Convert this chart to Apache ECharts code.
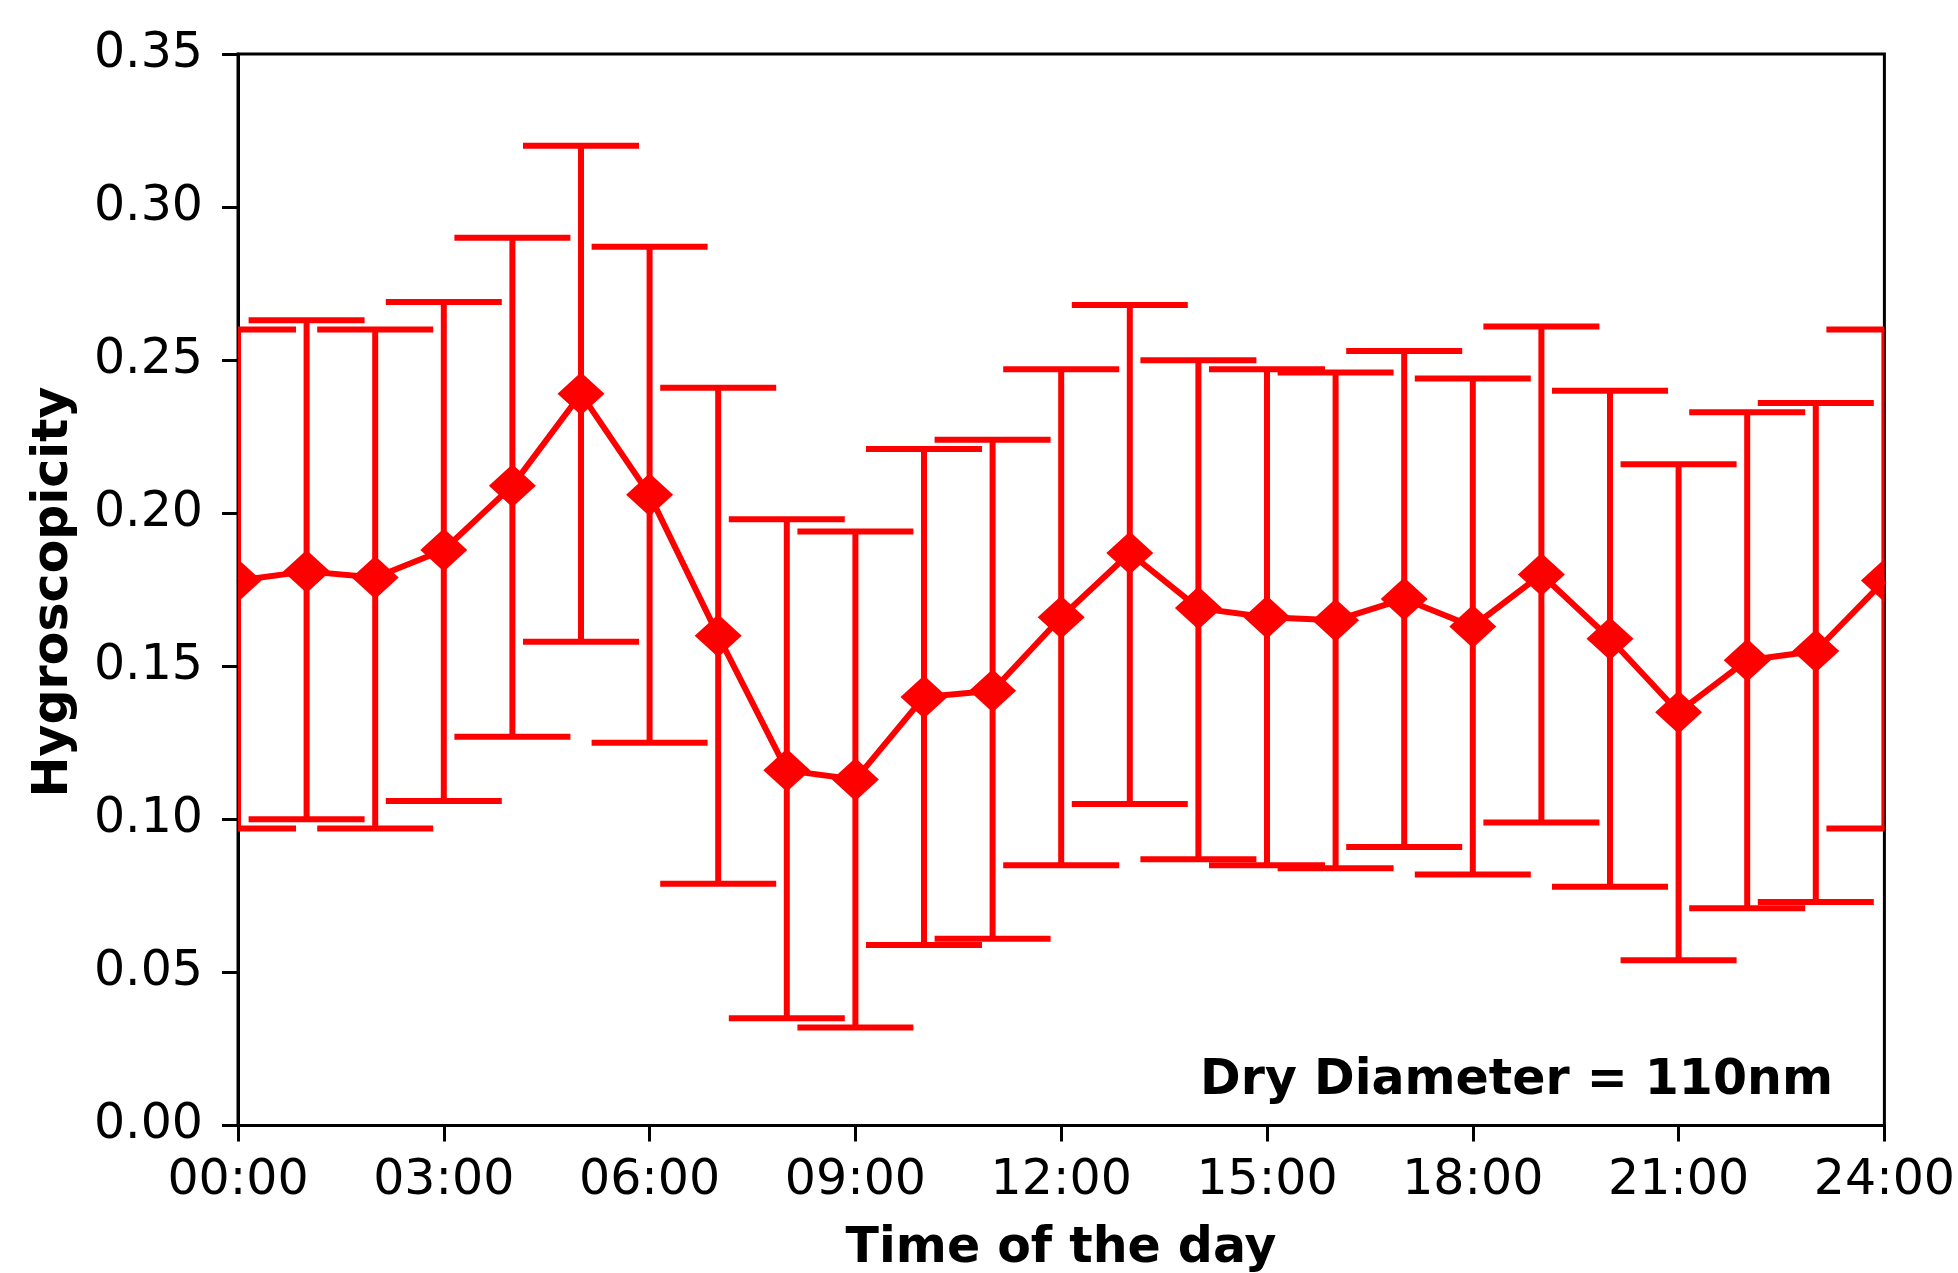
<!DOCTYPE html>
<html>
<head>
<meta charset="utf-8">
<script src="https://cdn.jsdelivr.net/npm/echarts@6/dist/echarts.min.js"></script>
<style>
html,body{margin:0;padding:0;background:#fff;}
#chart{width:1958px;height:1273px;}
</style>
</head>
<body>
<div id="chart"></div>
<script>
// ---- data ----
const hours = [0,1,2,3,4,5,6,7,8,9,10,11,12,13,14,15,16,17,18,19,20,21,22,23,24];
const hygroscopicity = [0.178,0.181,0.179,0.188,0.209,0.239,0.206,0.160,0.116,0.113,0.140,0.142,0.166,0.187,0.169,0.166,0.165,0.172,0.163,0.180,0.159,0.135,0.152,0.155,0.178];
const upperBound = [0.260,0.263,0.260,0.269,0.290,0.320,0.287,0.241,0.198,0.194,0.221,0.224,0.247,0.268,0.250,0.247,0.246,0.253,0.244,0.261,0.240,0.216,0.233,0.236,0.260];
const lowerBound = [0.097,0.100,0.097,0.106,0.127,0.158,0.125,0.079,0.035,0.032,0.059,0.061,0.085,0.105,0.087,0.085,0.084,0.091,0.082,0.099,0.078,0.054,0.071,0.073,0.097];
const xTickValues = [0,3,6,9,12,15,18,21,24];
const xTickLabels = ['00:00','03:00','06:00','09:00','12:00','15:00','18:00','21:00','24:00'];
const yTickLabels = ['0.00','0.05','0.10','0.15','0.20','0.25','0.30','0.35'];
const annotationText = 'Dry Diameter = 110nm';
const xTitle = 'Time of the day';
const yTitle = 'Hygroscopicity';

const RED = '#ff0000';
const FONT = 'DejaVu Sans';

const chart = echarts.init(document.getElementById('chart'), null, {renderer:'canvas'});

const linePts = hours.map((h,i)=>[h, hygroscopicity[i]]);
const errPts = hours.map((h,i)=>[h, lowerBound[i], upperBound[i]]);

function clipOf(params){
  const c = params.coordSys;
  return {type:'rect', shape:{x:c.x, y:c.y, width:c.width, height:c.height}};
}

const option = {
  animation:false,
  backgroundColor:'#fff',
  grid:{left:238, right:73, top:54, bottom:147.5, show:true, borderColor:'#000', borderWidth:3, backgroundColor:'transparent'},
  xAxis:{
    type:'value', min:0, max:24, interval:3,
    axisLine:{show:true, onZero:false, lineStyle:{color:'#000', width:3}},
    axisTick:{show:true, inside:false, length:16, lineStyle:{color:'#000', width:3}},
    splitLine:{show:false},
    axisLabel:{
      margin:31, color:'#000', fontFamily:FONT, fontSize:49,
      formatter:(v)=>{const k = xTickValues.indexOf(v); return k>=0 ? xTickLabels[k] : '';}
    }
  },
  yAxis:{
    type:'value', min:0, max:0.35, interval:0.05,
    axisLine:{show:true, onZero:false, lineStyle:{color:'#000', width:3}},
    axisTick:{show:true, inside:false, length:16, lineStyle:{color:'#000', width:3}},
    splitLine:{show:false},
    axisLabel:{
      margin:35, color:'#000', fontFamily:FONT, fontSize:49,
      formatter:(v)=>{const k = Math.round(v/0.05); return yTickLabels[k] || '';}
    }
  },
  graphic:[
    {type:'text', x:54, y:592, rotation:Math.PI/2, z:100,
     style:{text:yTitle, fill:'#000', font:'bold 49px "DejaVu Sans"', align:'center', verticalAlign:'middle'}},
    {type:'text', x:1061, y:1249, z:100,
     style:{text:xTitle, fill:'#000', font:'bold 49px "DejaVu Sans"', align:'center', verticalAlign:'middle'}},
    {type:'text', x:1833, y:1081, z:100,
     style:{text:annotationText, fill:'#000', font:'bold 49px "DejaVu Sans"', align:'right', verticalAlign:'middle'}}
  ],
  series:[
    {
      type:'custom', name:'errorbars', z:2,
      encode:{x:0, y:[1,2]},
      data:errPts,
      renderItem:function(params, api){
        const x = api.value(0);
        const lo = api.coord([x, api.value(1)]);
        const hi = api.coord([x, api.value(2)]);
        const hw = 58;
        const st = {stroke:RED, lineWidth:6, fill:null};
        return {type:'group', clipPath:clipOf(params), children:[
          {type:'line', shape:{x1:lo[0], y1:lo[1], x2:hi[0], y2:hi[1]}, style:st},
          {type:'line', shape:{x1:hi[0]-hw, y1:hi[1], x2:hi[0]+hw, y2:hi[1]}, style:st},
          {type:'line', shape:{x1:lo[0]-hw, y1:lo[1], x2:lo[0]+hw, y2:lo[1]}, style:st}
        ]};
      }
    },
    {
      type:'line', name:'mean', z:3,
      data:linePts, showSymbol:false, symbol:'none', clip:true,
      lineStyle:{color:RED, width:6}
    },
    {
      type:'custom', name:'markers', z:4,
      encode:{x:0, y:1},
      data:linePts,
      renderItem:function(params, api){
        const p = api.coord([api.value(0), api.value(1)]);
        const rx = 23.5, ry = 21.5;
        return {type:'group', clipPath:clipOf(params), children:[
          {type:'polygon', shape:{points:[[p[0],p[1]-ry],[p[0]+rx,p[1]],[p[0],p[1]+ry],[p[0]-rx,p[1]]]}, style:{fill:RED, stroke:null}}
        ]};
      }
    }
  ]
};
chart.setOption(option);
</script>
</body>
</html>
